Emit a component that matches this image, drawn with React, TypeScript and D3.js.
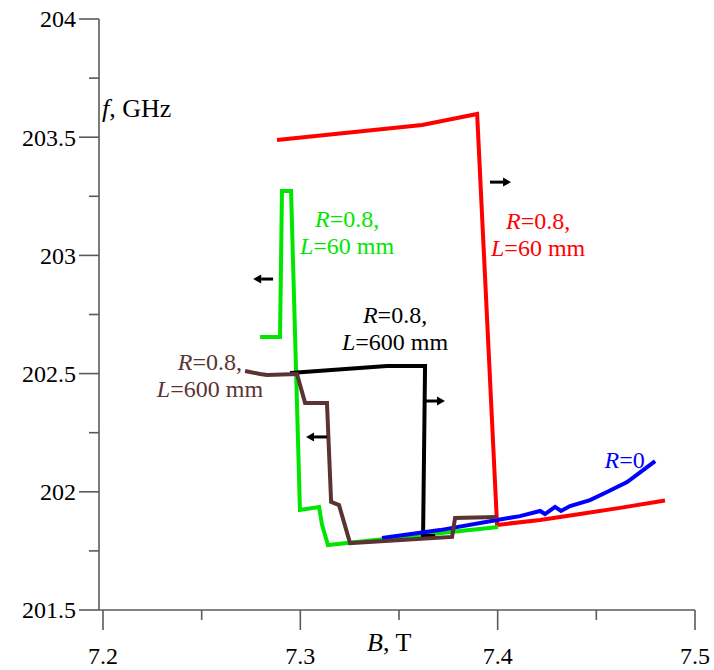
import React from "react";
import * as d3 from "d3";

// Magnetic field B (T) vs. frequency f (GHz) for different reflection/length settings
const redB = [7.2882, 7.3617, 7.3896, 7.3997, 7.4215, 7.4418, 7.462, 7.4848];
const redF = [203.488, 203.552, 203.598, 201.86, 201.881, 201.906, 201.932, 201.963];

const blueB = [7.3414, 7.3708, 7.3997, 7.4113, 7.4215, 7.424, 7.4291, 7.4321, 7.4367, 7.4468, 7.4554, 7.4656, 7.4737, 7.4798];
const blueF = [201.805, 201.838, 201.881, 201.897, 201.919, 201.906, 201.936, 201.919, 201.94, 201.965, 201.999, 202.041, 202.092, 202.13];

const greenB = [7.2796, 7.2897, 7.2907, 7.2953, 7.2998, 7.3095, 7.311, 7.314, 7.4002];
const greenF = [202.655, 202.655, 203.272, 203.272, 201.923, 201.936, 201.86, 201.775, 201.851];

const brownB = [7.272, 7.2796, 7.2831, 7.2983, 7.3024, 7.3135, 7.3156, 7.3196, 7.3252, 7.3769, 7.3784, 7.3997];
const brownF = [202.511, 202.498, 202.494, 202.498, 202.376, 202.376, 201.957, 201.944, 201.783, 201.809, 201.889, 201.893];

const blackB = [7.2948, 7.3439, 7.3632, 7.3622, 7.3683];
const blackF = [202.503, 202.532, 202.532, 201.813, 201.813];

// Sweep-direction arrows: tail B, head B, frequency
const arrowTailB = [7.2862, 7.3961, 7.3637, 7.3135];
const arrowHeadB = [7.2761, 7.4068, 7.3733, 7.3029];
const arrowF = [202.9, 203.31, 202.384, 202.232];

const xMajorTicks = [7.2, 7.3, 7.4, 7.5];
const xMinorTicks = [7.25, 7.35, 7.45];
const yMajorTicks = [201.5, 202, 202.5, 203, 203.5, 204];
const yMinorTicks = [201.75, 202.25, 202.75, 203.25, 203.75];

const FONT = "Liberation Serif, Times New Roman, serif";
const AXIS = "#5a5a5a";

const x = d3.scaleLinear().domain([7.2, 7.5]).range([103, 695]);
const y = d3.scaleLinear().domain([201.5, 204]).range([610, 19]);

const line = d3
  .line<[number, number]>()
  .x((d) => x(d[0]))
  .y((d) => y(d[1]));

const zip = (a: number[], b: number[]) => a.map((v, i) => [v, b[i]] as [number, number]);

const series = [
  { b: redB, f: redF, color: "#ff0000" },
  { b: greenB, f: greenF, color: "#00e600" },
  { b: blackB, f: blackF, color: "#000000" },
  { b: blueB, f: blueF, color: "#0000ff" },
  { b: brownB, f: brownF, color: "#5c3333" },
];

const txt = (size: number) => ({ fontFamily: FONT, fontSize: size });

function Label({ bx, fy, color, lines, anchor = "middle" }: { bx: number; fy: number; color: string; lines: [string, string][]; anchor?: string }) {
  return (
    <text x={x(bx)} y={y(fy)} fill={color} style={txt(24)} textAnchor={anchor as any}>
      {lines.map(([it, rest], i) => (
        <tspan key={i} x={x(bx)} dy={i === 0 ? 0 : 27}>
          <tspan fontStyle="italic">{it}</tspan>
          {rest}
        </tspan>
      ))}
    </text>
  );
}

export default function App() {
  return (
    <svg width={714} height={670} style={{ position: "absolute", left: 0, top: 0, background: "#fff" }}>
      {/* axes */}
      <line x1={99} x2={99} y1={y(204)} y2={y(201.5)} stroke={AXIS} strokeWidth={1.6} />
      <line x1={99} x2={x(7.5)} y1={y(201.5)} y2={y(201.5)} stroke={AXIS} strokeWidth={1.6} />
      {yMajorTicks.map((t) => (
        <g key={"ym" + t}>
          <line x1={79} x2={99} y1={y(t)} y2={y(t)} stroke={AXIS} strokeWidth={1.6} />
          <text x={76} y={y(t)} dy="0.35em" textAnchor="end" style={txt(24)} fill="#000">
            {t}
          </text>
        </g>
      ))}
      {yMinorTicks.map((t) => (
        <line key={"yn" + t} x1={89} x2={99} y1={y(t)} y2={y(t)} stroke={AXIS} strokeWidth={1.6} />
      ))}
      {xMajorTicks.map((t) => (
        <g key={"xm" + t}>
          <line x1={x(t)} x2={x(t)} y1={610} y2={630} stroke={AXIS} strokeWidth={1.6} />
          <text x={x(t)} y={664} textAnchor="middle" style={txt(24)} fill="#000">
            {t.toFixed(1)}
          </text>
        </g>
      ))}
      {xMinorTicks.map((t) => (
        <line key={"xn" + t} x1={x(t)} x2={x(t)} y1={610} y2={620} stroke={AXIS} strokeWidth={1.6} />
      ))}
      <text x={102} y={117} style={txt(26)} fill="#000">
        <tspan fontStyle="italic">f</tspan>, GHz
      </text>
      <text x={367} y={651} style={txt(26)} fill="#000">
        <tspan fontStyle="italic">B</tspan>, T
      </text>

      {/* curves */}
      {series.map((s, i) => (
        <path key={i} d={line(zip(s.b, s.f)) || ""} fill="none" stroke={s.color} strokeWidth={4} strokeLinejoin="miter" />
      ))}

      {/* arrows */}
      {arrowTailB.map((tb, i) => {
        const x1 = x(tb);
        const x2 = x(arrowHeadB[i]);
        const yy = y(arrowF[i]);
        const dir = x2 > x1 ? 1 : -1;
        const hl = 8;
        return (
          <g key={"a" + i}>
            <line x1={x1} x2={x2 - dir * hl} y1={yy} y2={yy} stroke="#000" strokeWidth={3} />
            <path d={`M${x2},${yy} L${x2 - dir * hl},${yy - 4.5} L${x2 - dir * hl},${yy + 4.5} Z`} fill="#000" />
          </g>
        );
      })}

      {/* labels */}
      <Label bx={7.3237} fy={203.12} color="#00e600" lines={[["R", "=0.8,"], ["L", "=60 mm"]]} />
      <Label bx={7.4205} fy={203.112} color="#ff0000" lines={[["R", "=0.8,"], ["L", "=60 mm"]]} />
      <Label bx={7.348} fy={202.714} color="#000000" lines={[["R", "=0.8,"], ["L", "=600 mm"]]} />
      <Label bx={7.2542} fy={202.515} color="#5c3333" lines={[["R", "=0.8,"], ["L", "=600 mm"]]} />
      <Label bx={7.4542} fy={202.101} color="#0000ff" anchor="start" lines={[["R", "=0"]]} />
    </svg>
  );
}
